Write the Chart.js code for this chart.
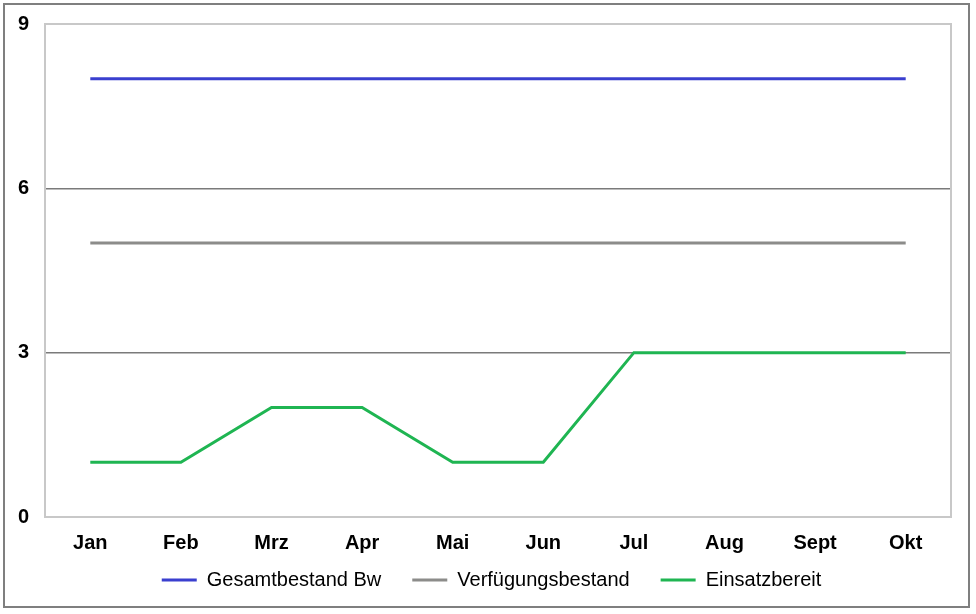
<!DOCTYPE html>
<html>
<head>
<meta charset="utf-8">
<script src="https://cdn.jsdelivr.net/npm/chart.js"></script>
<style>
  html, body { margin: 0; padding: 0; background: #fff; }
  #wrap { width: 976px; height: 614px; position: relative; }
</style>
</head>
<body>
<div id="wrap"><canvas id="chart" width="976" height="614"></canvas></div>
<script>
// Monthly stock figures
const months = ['Jan', 'Feb', 'Mrz', 'Apr', 'Mai', 'Jun', 'Jul', 'Aug', 'Sept', 'Okt'];
const gesamtbestand = [8, 8, 8, 8, 8, 8, 8, 8, 8, 8];
const verfuegungsbestand = [5, 5, 5, 5, 5, 5, 5, 5, 5, 5];
const einsatzbereit = [1, 1, 2, 2, 1, 1, 3, 3, 3, 3];

// Outer frame and plot border
const framePlugin = {
  id: 'frame',
  afterLayout(chart) {
    // pull the legend up closer to the axis labels and nudge it right
    const lg = chart.legend;
    const dy = lg.top - 539;
    lg.top -= dy;
    lg.bottom -= dy;
    lg.left += 9;
    lg.right += 9;
  },
  beforeDraw(chart) {
    const ctx = chart.ctx;
    ctx.save();
    ctx.strokeStyle = '#7f7f7f';
    ctx.lineWidth = 2;
    ctx.strokeRect(4, 4, 965, 603);
    ctx.restore();
  },
  beforeDatasetsDraw(chart) {
    const a = chart.chartArea;
    const ctx = chart.ctx;
    ctx.save();
    ctx.strokeStyle = '#c8c8c8';
    ctx.lineWidth = 2;
    ctx.strokeRect(a.left, a.top, a.right - a.left, a.bottom - a.top);
    ctx.restore();
  }
};

const lineDs = (label, data, color) => ({
  label: label,
  data: data,
  borderColor: color,
  backgroundColor: color,
  borderWidth: 3,
  pointRadius: 0,
  tension: 0,
  fill: false
});

new Chart(document.getElementById('chart').getContext('2d'), {
  type: 'line',
  data: {
    labels: months,
    datasets: [
      lineDs('Gesamtbestand Bw', gesamtbestand, '#3a3fcf'),
      lineDs('Verfügungsbestand', verfuegungsbestand, '#8c8c8a'),
      lineDs('Einsatzbereit', einsatzbereit, '#1fb552')
    ]
  },
  options: {
    responsive: false,
    animation: false,
    layout: { padding: { left: 14, right: 25, top: 24, bottom: 0 } },
    scales: {
      x: {
        offset: true,
        afterFit: s => { s.height = 36; },
        grid: { display: false, drawTicks: false },
        border: { display: false },
        ticks: {
          color: '#000',
          padding: 14,
          font: { family: 'Liberation Sans, Arial', size: 20, weight: 'bold' }
        }
      },
      y: {
        min: 0,
        max: 9,
        afterFit: s => { s.width = 31; s.paddingTop = 0; s.paddingBottom = 0; },
        grid: {
          drawTicks: false,
          color: ctx => (ctx.tick.value === 0 || ctx.tick.value === 9) ? 'rgba(0,0,0,0)' : '#7a7a7a',
          lineWidth: 1.5
        },
        border: { display: false },
        ticks: {
          stepSize: 3,
          color: '#000',
          padding: 16,
          font: { family: 'Liberation Sans, Arial', size: 20, weight: 'bold' }
        }
      }
    },
    plugins: {
      legend: {
        position: 'bottom',
        labels: {
          color: '#000',
          boxWidth: 35,
          boxHeight: 3,
          padding: 31,
          font: { family: 'Liberation Sans, Arial', size: 20 },
          generateLabels: chart => {
            const items = Chart.defaults.plugins.legend.labels.generateLabels(chart);
            items.forEach(it => { it.lineWidth = 0; });
            return items;
          }
        }
      },
      tooltip: { enabled: false }
    }
  },
  plugins: [framePlugin]
});
</script>
</body>
</html>
